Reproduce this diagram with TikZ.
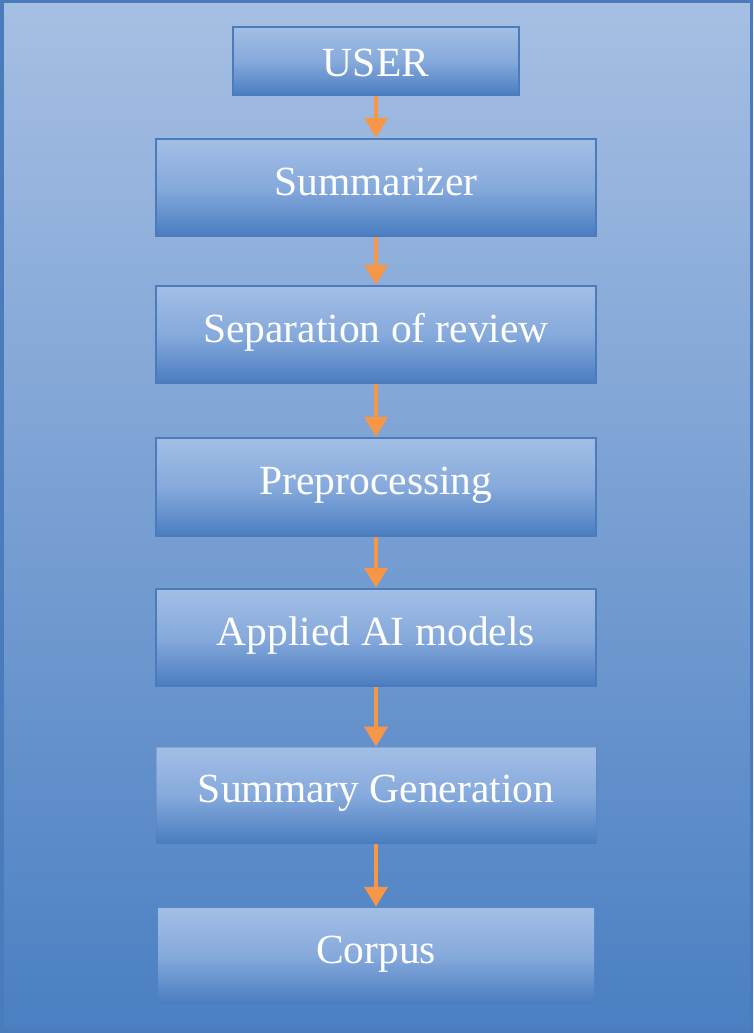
\documentclass[tikz,border=0pt]{standalone}
\usepackage{fontspec}
\setmainfont{Liberation Serif}
\usetikzlibrary{arrows.meta}
\definecolor{bgtop}{HTML}{A6BFE3}
\definecolor{bgbot}{HTML}{4A7FC2}
\definecolor{boxtop}{HTML}{A3BEE5}
\definecolor{boxmid}{HTML}{86AADC}
\definecolor{boxbot}{HTML}{4A7DC0}
\definecolor{boxline}{HTML}{4A7BBB}
\definecolor{arr}{HTML}{F79646}
\tikzset{
  flowbox/.style={rectangle, minimum width=440pt, minimum height=97pt, inner sep=0pt,
    text height=28pt, text depth=13pt, font=\fontsize{41.5}{41.5}\selectfont, text=white,
    top color=boxtop, bottom color=boxbot, middle color=boxmid,
    draw=boxline, line width=2.5pt},
  flowarrow/.style={draw=arr, line width=4pt, -{Triangle[width=23pt,length=20pt]}}
}
\begin{document}
\begin{tikzpicture}[x=1pt,y=-1pt]
\useasboundingbox (0,0) rectangle (753,1033);
\path[top color=bgtop, bottom color=bgbot] (0,0) rectangle (753,1033);
\draw[boxline, line width=3.5pt] (1.75,1.75) rectangle (751.25,1031.25);

\node[flowbox, minimum width=286pt, minimum height=68pt, text height=32pt, text depth=0pt] (user) at (376,61) {USER};
\node[flowbox] (summ) at (376,187.5) {Summarizer};
\node[flowbox] (sep) at (376,334.5) {Separation of review};
\node[flowbox, minimum height=98pt] (pre) at (376,487) {Preprocessing};
\node[flowbox] (ai) at (376,637.5) {Applied AI models};
\node[flowbox, minimum height=96pt, draw opacity=0.35, line width=1pt] (gen) at (376,795) {Summary Generation};
\node[flowbox, minimum width=436pt, minimum height=95pt, draw=none] (corpus) at (376,955.5) {Corpus};

\draw[flowarrow] (user.south) -- (summ.north);
\draw[flowarrow] (summ.south) -- (sep.north);
\draw[flowarrow] (sep.south) -- (pre.north);
\draw[flowarrow] (pre.south) -- (ai.north);
\draw[flowarrow] (ai.south) -- (gen.north);
\draw[flowarrow] (gen.south) -- (corpus.north);
\end{tikzpicture}
\end{document}
